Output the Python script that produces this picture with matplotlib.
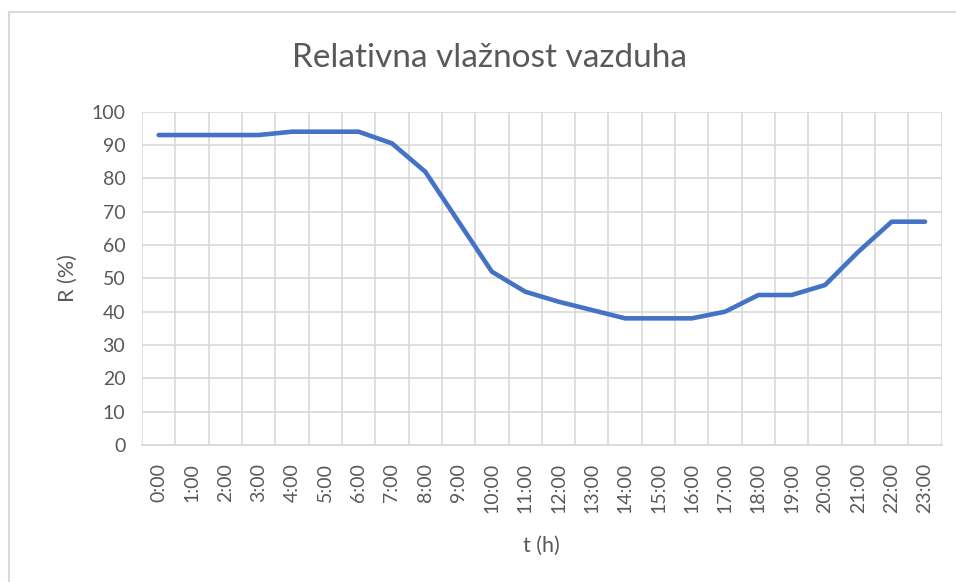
import numpy as np
import matplotlib.pyplot as plt
from matplotlib.patches import Rectangle

# data
hours = [f"{h}:00" for h in range(24)]
humidity = [93, 93, 93, 93, 94, 94, 94, 90.5, 82, 67, 52, 46,
            43, 40.5, 38, 38, 38, 40, 45, 45, 48, 58, 67, 67]

title = "Relativna vlažnost vazduha"
xlabel = "t (h)"
ylabel = "R (%)"

text_col = "#595959"
grid_col = "#d9d9d9"
line_col = "#4472C4"

plt.rcParams['font.family'] = ['Lato', 'DejaVu Sans']

fig = plt.figure(figsize=(9.56, 5.82), dpi=100)
ax = fig.add_axes([142 / 956, 1 - 445 / 582, (941.7 - 142) / 956, (445 - 111.7) / 582])

# chart border (only left/top visible in the crop)
fig.patches.append(Rectangle((9 / 956, -0.1), 1.2, 1 - 12 / 582 + 0.1,
                             transform=fig.transFigure, fill=False,
                             edgecolor=grid_col, linewidth=1.5))

x = np.arange(len(hours))
ax.plot(x, humidity, color=line_col, linewidth=3.3, solid_capstyle='round',
        solid_joinstyle='round')

ax.set_xlim(-0.5, len(hours) - 0.5)
ax.set_ylim(0, 100)
ax.set_yticks(range(0, 101, 10))
ax.set_xticks(x)
ax.set_xticklabels(hours, rotation=90)
ax.set_xticks(np.arange(-0.5, len(hours), 1), minor=True)

ax.grid(True, which='minor', axis='x', color=grid_col, linewidth=1.2)
ax.grid(True, which='major', axis='y', color=grid_col, linewidth=1.2)
ax.set_axisbelow(True)

for s in ['top', 'right', 'left']:
    ax.spines[s].set_visible(False)
ax.spines['bottom'].set_color(grid_col)
ax.spines['bottom'].set_linewidth(1.2)

ax.tick_params(axis='both', which='both', length=0, colors=text_col, labelsize=14)
ax.tick_params(axis='x', pad=13)
ax.tick_params(axis='y', pad=12)

ax.set_xlabel(xlabel, fontsize=15.5, color=text_col, labelpad=16)
ax.set_ylabel(ylabel, fontsize=15.5, color=text_col, labelpad=10)
fig.text(490 / 956, 1 - 58 / 582, title, ha='center', va='center',
         fontsize=24, color=text_col)

fig.savefig("out.png", dpi=100)
